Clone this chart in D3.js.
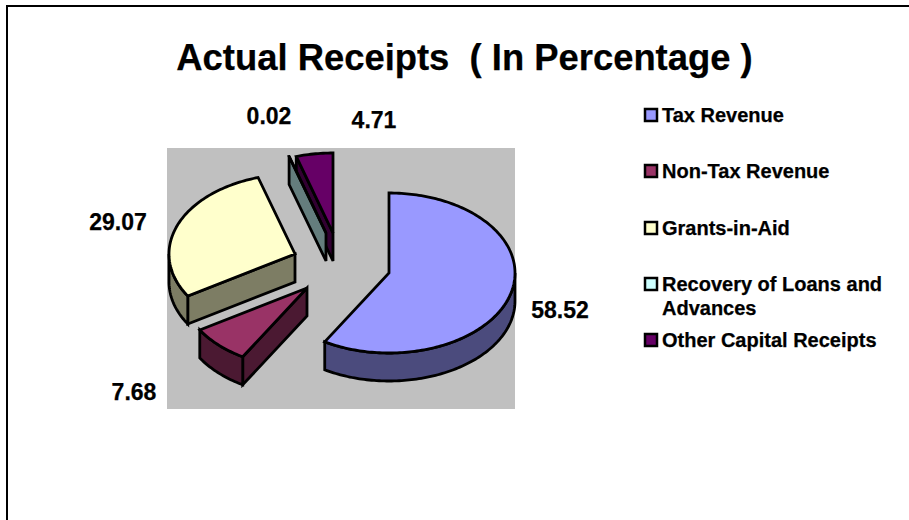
<!DOCTYPE html>
<html>
<head>
<meta charset="utf-8">
<script src="https://cdn.jsdelivr.net/npm/d3@7"></script>
<style>
  html, body { margin: 0; padding: 0; background: #fff; }
  svg { display: block; }
  text { font-family: "Liberation Sans", Arial, sans-serif; font-weight: bold; fill: #000; stroke: #000; stroke-width: 0.25px; }
</style>
</head>
<body>
<svg id="chart" width="909" height="520"></svg>
<script>
// Budget receipts, share of total in percent
const categories = ["Tax Revenue", "Non-Tax Revenue", "Grants-in-Aid", "Recovery of Loans and Advances", "Other Capital Receipts"];
const shares = [58.52, 7.68, 29.07, 0.02, 4.71];
const colours = ["#9999FF", "#993366", "#FFFFCC", "#CCFFFF", "#660066"];
const chartTitle = "Actual Receipts  ( In Percentage )";

// Layout of the exploded pseudo-3D pie
const rx = 126, ry = 80, depth = 28;
const sliceCentres = [[389, 273], [307, 288], [295, 254], [326, 233], [333, 233]];
const labelPositions = [[560, 310], [134, 392], [118, 222], [269, 116], [374, 120]];
const legendRows = [
  { y: 115, lines: [[0, 115]] },
  { y: 171, lines: [[1, 171]] },
  { y: 228, lines: [[2, 228]] },
  { y: 284, lines: [[3, 284], [3, 308]] },
  { y: 340, lines: [[4, 340]] }
];
const legendLineText = { 3: ["Recovery of Loans and", "Advances"] };

const svg = d3.select("#chart");
const strokeW = 2.8;

// Page frame running off the right and bottom edges
svg.append("path")
  .attr("d", "M7,520V6H909")
  .attr("fill", "none").attr("stroke", "#000").attr("stroke-width", 2);

svg.append("text")
  .attr("x", 464.5).attr("y", 70)
  .attr("text-anchor", "middle")
  .attr("font-size", 36.4)
  .style("white-space", "pre")
  .text(chartTitle);

// Grey plot area
svg.append("rect")
  .attr("x", 167).attr("y", 148)
  .attr("width", 348).attr("height", 261)
  .attr("fill", "#C0C0C0");

const arcs = d3.pie().sort(null).value(d => d)(shares);

const px = d3.scaleLinear().domain([-1, 1]).range([-rx, rx]);
const py = d3.scaleLinear().domain([-1, 1]).range([-ry, ry]);
const rim = (c, a, drop = 0) => [c[0] + px(Math.sin(a)), c[1] - py(Math.cos(a)) + drop];
const rimRun = (c, a0, a1, drop = 0) => {
  const n = Math.max(2, Math.ceil(Math.abs(a1 - a0) / 0.02));
  return d3.range(n + 1).map(i => rim(c, a0 + (a1 - a0) * i / n, drop));
};
const poly = d3.line();
const PI = Math.PI, TAU = 2 * PI;

const slices = arcs.map((a, i) => ({ ...a, i, c: sliceCentres[i], col: colours[i] }));
const g = svg.append("g")
  .attr("stroke", "#000").attr("stroke-width", strokeW).attr("stroke-linejoin", "miter");

// Back-to-front painter order
[4, 3, 2, 1, 0].forEach(idx => {
  const s = slices[idx];
  const wall = d3.rgb(s.col).darker(2).formatHex();
  const { c, startAngle: a0, endAngle: a1 } = s;
  const bottom = [c[0], c[1] + depth];

  // Cut face on the leading edge, visible when it looks towards the viewer
  if (a0 >= PI && a0 < TAU) {
    g.append("path").attr("fill", wall)
      .attr("d", poly([c, rim(c, a0), rim(c, a0, depth), bottom]) + "Z");
  }
  // Curved outer wall over the front half of the ellipse
  const w0 = Math.max(a0, PI / 2), w1 = Math.min(a1, 3 * PI / 2);
  if (w1 > w0) {
    g.append("path").attr("fill", wall)
      .attr("d", poly([...rimRun(c, w0, w1), ...rimRun(c, w1, w0, depth)]) + "Z");
  }
  // Top face
  g.append("path").attr("fill", s.col)
    .attr("d", poly([c, ...rimRun(c, a0, a1)]) + "Z");
});

// Value labels
svg.append("g").selectAll("text").data(shares).join("text")
  .attr("x", (d, i) => labelPositions[i][0])
  .attr("y", (d, i) => labelPositions[i][1] + 8)
  .attr("text-anchor", "middle")
  .attr("font-size", 23)
  .text(d => d3.format(".2f")(d));

// Legend
const legend = svg.append("g");
legendRows.forEach((row, i) => {
  legend.append("rect")
    .attr("x", 645).attr("y", row.y - 6)
    .attr("width", 12).attr("height", 12)
    .attr("fill", colours[i]).attr("stroke", "#000").attr("stroke-width", 2.5);
  const texts = legendLineText[i] || [categories[i]];
  row.lines.forEach((ln, k) => {
    legend.append("text")
      .attr("x", 662).attr("y", ln[1] + 7)
      .attr("font-size", 20)
      .text(texts[k]);
  });
});
</script>
</body>
</html>
